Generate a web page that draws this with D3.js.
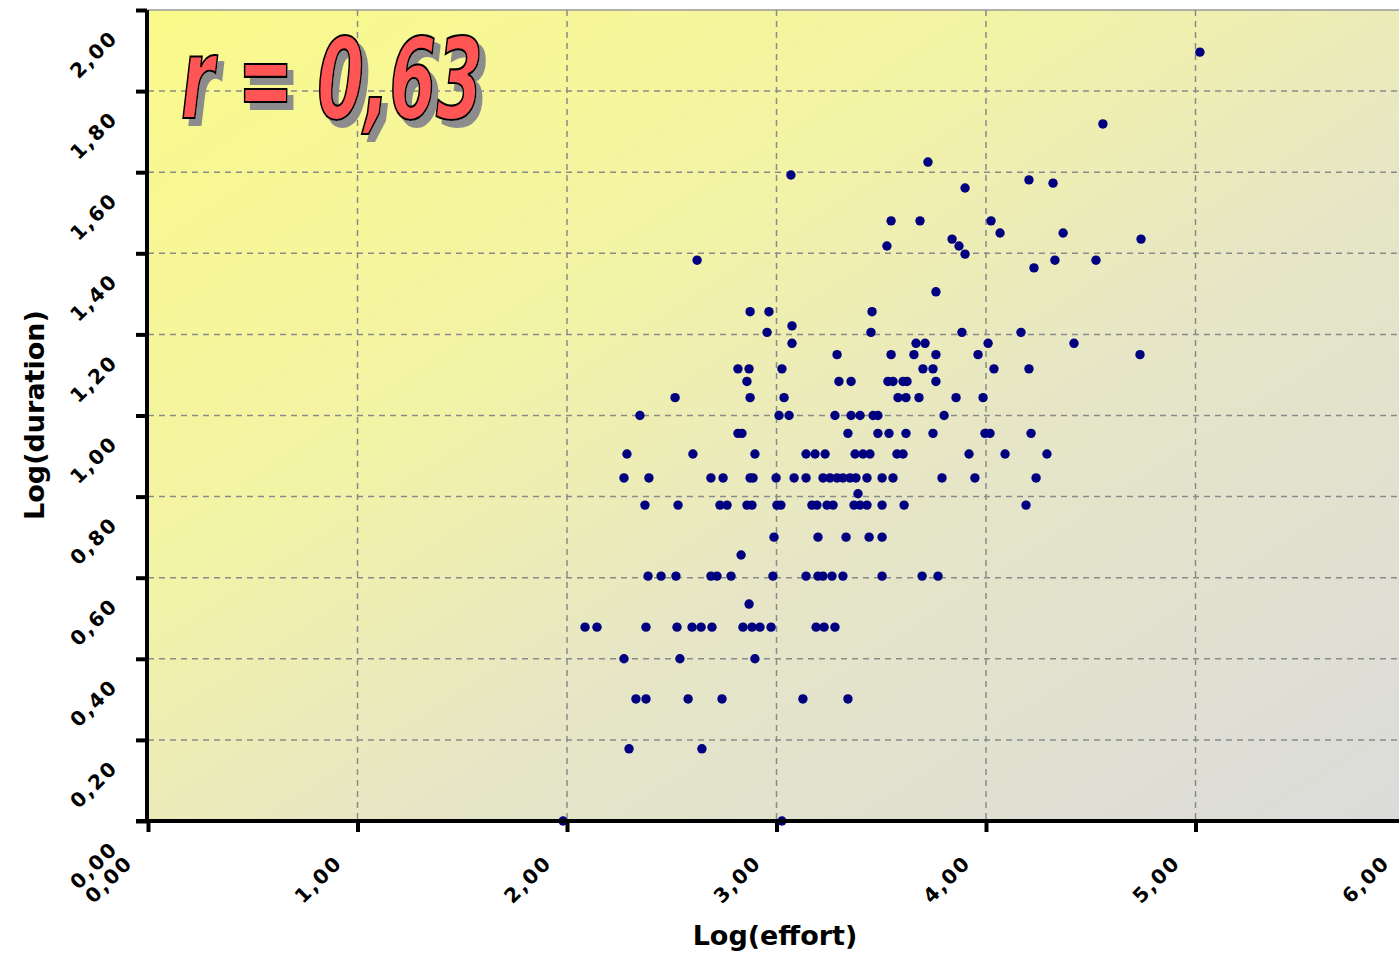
<!DOCTYPE html>
<html>
<head>
<meta charset="utf-8">
<script src="https://cdn.jsdelivr.net/npm/d3@7"></script>
<style>
  body { margin: 0; background: #fff; }
  svg { display: block; }
</style>
</head>
<body>
<svg id="svg" width="1399" height="955"></svg>
<script>
// log(duration) levels and the log(effort) values of the projects at each level
const durationLevels = [1.896, 1.719, 1.625, 1.593, 1.581, 1.573, 1.561, 1.480, 1.450, 1.435,
  1.418, 1.398, 1.383, 1.364, 1.305, 1.256, 1.221, 1.205, 1.178, 1.150, 1.115, 1.084, 1.044,
  1.000, 0.956, 0.905, 0.846, 0.807, 0.779, 0.700, 0.656, 0.604, 0.535, 0.478, 0.400, 0.301,
  0.178, 0.000];
const effortByLevel = [
  [5.021],
  [4.558],
  [3.723],
  [3.069],
  [4.205],
  [4.320],
  [3.900],
  [3.547, 3.685, 4.024],
  [4.067, 4.368],
  [3.838, 4.740],
  [3.527, 3.871],
  [3.900],
  [2.621, 4.329, 4.525],
  [4.229],
  [3.761],
  [2.874, 2.964, 3.456],
  [3.074],
  [2.955, 3.451, 3.885, 4.167],
  [3.074, 3.666, 3.709, 4.010, 4.420],
  [3.289, 3.547, 3.656, 3.761, 3.962, 4.735],
  [2.816, 2.869, 3.026, 3.699, 3.747, 4.038, 4.205],
  [2.859, 3.298, 3.356, 3.532, 3.556, 3.604, 3.623, 3.761],
  [2.516, 2.874, 3.036, 3.580, 3.618, 3.680, 3.857, 3.986],
  [2.348, 3.012, 3.060, 3.279, 3.356, 3.399, 3.461, 3.484, 3.800],
  [2.816, 2.835, 3.341, 3.484, 3.537, 3.618, 3.747, 3.995, 4.019, 4.215],
  [2.286, 2.601, 2.897, 3.141, 3.184, 3.232, 3.375, 3.413, 3.446, 3.575, 3.604, 3.919, 4.091, 4.291],
  [2.272, 2.391, 2.687, 2.745, 2.874, 2.888, 2.998, 3.084, 3.141, 3.222, 3.255, 3.289, 3.317,
   3.351, 3.379, 3.432, 3.504, 3.556, 3.790, 3.947, 4.239],
  [3.389],
  [2.372, 2.530, 2.730, 2.764, 2.859, 2.883, 3.002, 3.021, 3.169, 3.193, 3.241, 3.270, 3.370,
   3.399, 3.432, 3.504, 3.609, 4.191],
  [2.988, 3.198, 3.332, 3.442, 3.504],
  [2.831],
  [2.387, 2.449, 2.520, 2.687, 2.716, 2.783, 2.983, 3.141, 3.198, 3.222, 3.265, 3.317, 3.504, 3.695, 3.771],
  [2.869],
  [2.086, 2.143, 2.377, 2.525, 2.597, 2.640, 2.692, 2.840, 2.883, 2.921, 2.974, 3.189, 3.227, 3.279],
  [2.272, 2.539, 2.897],
  [2.329, 2.377, 2.578, 2.740, 3.126, 3.341],
  [2.296, 2.644],
  [1.981, 3.026]
];
const xTicks = [0, 1, 2, 3, 4, 5, 6];
const yTicks = [0, 0.2, 0.4, 0.6, 0.8, 1.0, 1.2, 1.4, 1.6, 1.8, 2.0];
const correlation = "r = 0,63";

const points = [];
durationLevels.forEach((d, i) => {
  effortByLevel[i].forEach(e => points.push({ effort: e, duration: d }));
});

const svg = d3.select("#svg");
const x = d3.scaleLinear().domain([0, 6]).range([148, 1405]);
const y = d3.scaleLinear().domain([0, 2]).range([821, 10]);
const fmt = v => v.toFixed(2).replace(".", ",");

const defs = svg.append("defs");
const grad = defs.append("linearGradient")
  .attr("id", "bg")
  .attr("x1", 0).attr("y1", 0).attr("x2", 1).attr("y2", 1);
grad.append("stop").attr("offset", 0).attr("stop-color", "#fafa8a");
grad.append("stop").attr("offset", 0.35).attr("stop-color", "#f3f3a6");
grad.append("stop").attr("offset", 0.6).attr("stop-color", "#e6e6c6");
grad.append("stop").attr("offset", 1).attr("stop-color", "#dbdbdb");

// gray drop shadow for the big label
const shadow = defs.append("filter").attr("id", "shadow")
  .attr("x", "-10%").attr("y", "-10%").attr("width", "130%").attr("height", "140%");
shadow.append("feOffset").attr("in", "SourceAlpha").attr("dx", 6).attr("dy", 7).attr("result", "off");
shadow.append("feFlood").attr("flood-color", "#8c8c8c").attr("result", "col");
shadow.append("feComposite").attr("in", "col").attr("in2", "off").attr("operator", "in").attr("result", "sh");
const merge = shadow.append("feMerge");
merge.append("feMergeNode").attr("in", "sh");
merge.append("feMergeNode").attr("in", "SourceGraphic");

defs.append("clipPath").attr("id", "plotclip")
  .append("rect")
  .attr("x", x(0)).attr("y", y(2))
  .attr("width", x(6) - x(0)).attr("height", y(0) - y(2));

// plot background
svg.append("rect")
  .attr("x", x(0)).attr("y", y(2))
  .attr("width", x(6) - x(0)).attr("height", y(0) - y(2))
  .attr("fill", "url(#bg)");

// top border
svg.append("line")
  .attr("x1", x(0)).attr("x2", x(6))
  .attr("y1", y(2)).attr("y2", y(2))
  .attr("stroke", "#999").attr("stroke-width", 1.5);

// grid
const grid = svg.append("g").attr("clip-path", "url(#plotclip)")
  .attr("stroke", "#8a8a8a").attr("stroke-width", 1.5)
  .attr("stroke-dasharray", "6,5");
grid.selectAll(".vg")
  .data(xTicks.filter(t => t > 0 && t < 6))
  .join("line")
  .attr("x1", d => x(d)).attr("x2", d => x(d))
  .attr("y1", y(2)).attr("y2", y(0));
grid.selectAll(".hg")
  .data(yTicks.filter(t => t > 0 && t < 2))
  .join("line")
  .attr("x1", x(0)).attr("x2", x(6))
  .attr("y1", d => y(d)).attr("y2", d => y(d));

// points
svg.append("g")
  .selectAll("circle")
  .data(points)
  .join("circle")
  .attr("cx", d => x(d.effort))
  .attr("cy", d => y(d.duration))
  .attr("r", 4.7)
  .attr("fill", "#000080");

// axes
const xAxis = d3.axisBottom(x).tickValues(xTicks).tickSize(11).tickFormat("");
const yAxis = d3.axisLeft(y).tickValues(yTicks).tickSize(11).tickFormat("");
const gx = svg.append("g").attr("transform", `translate(0,${y(0)})`).call(xAxis);
const gy = svg.append("g").attr("transform", `translate(${x(0) - 1},0)`).call(yAxis);
[gx, gy].forEach(g => {
  g.select(".domain").attr("stroke", "#000").attr("stroke-width", 4);
  g.selectAll(".tick line").attr("stroke", "#000").attr("stroke-width", 4);
});
gx.select(".domain").attr("d", `M${x(0) - 12},0H${x(6)}`);
gy.select(".domain").attr("d", `M0,${y(2)}V${y(0)}`);

// tick labels, rotated
const tickFont = "DejaVu Sans, Verdana, sans-serif";
svg.append("g")
  .selectAll("text")
  .data(xTicks)
  .join("text")
  .attr("transform", d => `translate(${x(d) - 14},864) rotate(-45)`)
  .attr("text-anchor", "end")
  .attr("font-family", tickFont)
  .attr("font-weight", "bold")
  .attr("font-size", 20)
  .attr("letter-spacing", 2)
  .text(fmt);

svg.append("g")
  .selectAll("text")
  .data(yTicks)
  .join("text")
  .attr("transform", d => `translate(119,${y(d) + 29}) rotate(-45)`)
  .attr("text-anchor", "end")
  .attr("font-family", tickFont)
  .attr("font-weight", "bold")
  .attr("font-size", 20)
  .attr("letter-spacing", 2)
  .text(fmt);

// axis titles
svg.append("text")
  .attr("x", 775).attr("y", 945)
  .attr("text-anchor", "middle")
  .attr("font-family", tickFont)
  .attr("font-weight", "bold")
  .attr("font-size", 27)
  .text("Log(effort)");

svg.append("text")
  .attr("transform", "translate(44,415) rotate(-90)")
  .attr("text-anchor", "middle")
  .attr("font-family", tickFont)
  .attr("font-weight", "bold")
  .attr("font-size", 27)
  .text("Log(duration)");

// correlation label
svg.append("text")
  .attr("x", 181).attr("y", 118)
  .attr("font-family", "'DejaVu Sans Condensed', 'Liberation Sans Narrow', sans-serif")
  .attr("font-stretch", "condensed")
  .attr("font-weight", "bold").attr("font-style", "italic")
  .attr("font-size", 112)
  .attr("textLength", 302).attr("lengthAdjust", "spacingAndGlyphs")
  .attr("fill", "#ff5555")
  .attr("stroke", "#000").attr("stroke-width", 2.2)
  .attr("filter", "url(#shadow)")
  .text(correlation);
</script>
</body>
</html>
